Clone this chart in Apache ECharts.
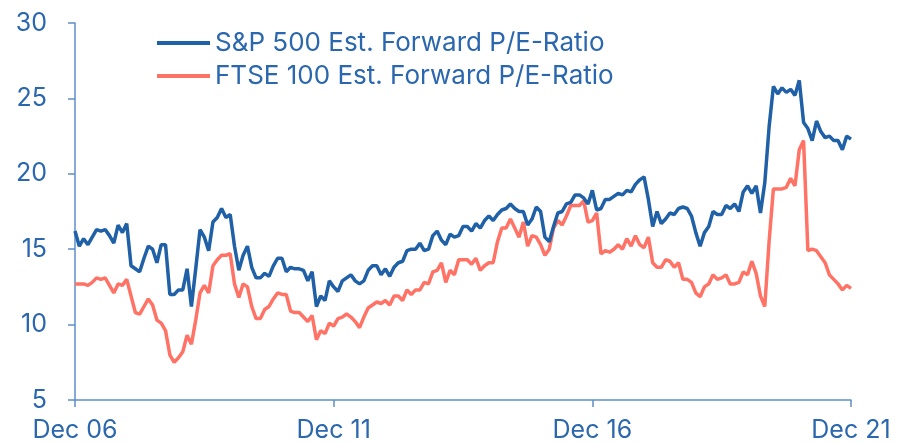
<!DOCTYPE html>
<html>
<head>
<meta charset="utf-8">
<title>Forward P/E</title>
<script src="https://cdn.jsdelivr.net/npm/echarts@6/dist/echarts.min.js"></script>
<style>
  html, body { margin: 0; padding: 0; background: #fff; }
  #chart { width: 909px; height: 443px; }
</style>
</head>
<body>
<div id="chart"></div>
<script>
// monthly values, Dec 2006 .. Dec 2021
var spx = [
  16.2, 15.2, 15.7, 15.3, 15.8, 16.3, 16.2, 16.3, 15.9, 15.4,
  16.6, 16.1, 16.7, 13.9, 13.7, 13.5, 14.4, 15.2, 15.0, 14.1,
  15.3, 15.3, 12.0, 12.0, 12.3, 12.3, 13.7, 11.2, 13.7, 16.3,
  15.8, 14.9, 16.8, 17.1, 17.7, 17.1, 17.3, 15.2, 13.6, 14.6,
  15.2, 13.8, 13.1, 13.1, 13.4, 13.2, 13.9, 14.4, 14.4, 13.5,
  13.8, 13.7, 13.7, 13.6, 12.9, 13.5, 11.2, 11.9, 11.6, 12.9,
  12.5, 12.2, 12.9, 13.1, 13.3, 12.9, 12.7, 12.9, 13.6, 13.9,
  13.9, 13.3, 13.7, 13.2, 13.8, 14.1, 14.2, 14.9, 15.0, 15.0,
  15.4, 14.9, 15.0, 15.9, 16.2, 15.6, 15.3, 16.0, 15.8, 15.9,
  16.5, 16.5, 16.2, 16.7, 16.4, 16.9, 17.2, 16.9, 17.3, 17.6,
  17.7, 18.0, 17.7, 17.5, 17.5, 16.6, 17.0, 17.8, 17.5, 15.8,
  15.5, 16.5, 17.4, 17.5, 18.0, 18.1, 18.6, 18.6, 18.4, 18.0,
  18.9, 17.6, 17.7, 18.3, 18.3, 18.5, 18.7, 18.6, 18.9, 18.8,
  19.3, 19.6, 19.8, 18.3, 16.5, 17.5, 16.7, 17.0, 17.4, 17.3,
  17.7, 17.8, 17.7, 17.2, 16.1, 15.2, 16.1, 16.5, 17.5, 17.3,
  17.3, 17.9, 17.7, 18.0, 17.5, 18.8, 19.2, 18.7, 19.2, 17.4,
  19.4, 23.1, 25.8, 25.3, 25.7, 25.4, 25.6, 25.2, 26.2, 23.4,
  23.0, 22.2, 23.5, 22.8, 22.4, 22.5, 22.2, 22.2, 21.6, 22.5,
  22.3
];

var ftse = [
  12.7, 12.7, 12.7, 12.6, 12.8, 13.1, 13.0, 13.1, 12.6, 12.1,
  12.7, 12.6, 13.0, 11.9, 10.8, 10.7, 11.2, 11.7, 11.3, 10.3,
  10.1, 9.6, 8.0, 7.5, 7.8, 8.2, 9.3, 8.7, 10.3, 12.1,
  12.6, 12.1, 13.9, 14.3, 14.6, 14.6, 14.7, 12.7, 11.8, 12.7,
  12.5, 11.2, 10.4, 10.4, 11.0, 11.2, 11.7, 12.1, 12.0, 12.0,
  10.9, 10.8, 10.8, 10.5, 10.2, 10.6, 9.0, 9.6, 9.4, 10.1,
  9.9, 10.4, 10.5, 10.7, 10.5, 10.2, 9.8, 10.5, 11.1, 11.3,
  11.5, 11.4, 11.6, 11.3, 11.9, 11.9, 11.6, 12.3, 12.0, 12.3,
  12.3, 12.8, 12.7, 13.5, 13.6, 14.1, 12.8, 13.6, 13.3, 14.3,
  14.3, 14.3, 14.0, 14.4, 13.6, 13.9, 14.1, 14.1, 15.5, 16.4,
  16.4, 17.0, 16.4, 15.8, 16.8, 15.2, 15.9, 15.8, 15.3, 14.6,
  15.0, 16.4, 16.9, 16.6, 17.2, 17.9, 17.9, 17.9, 18.2, 16.8,
  16.9, 17.4, 14.7, 14.9, 14.8, 15.0, 15.3, 15.0, 15.7, 15.2,
  15.9, 15.3, 15.1, 15.8, 14.1, 13.8, 13.8, 14.3, 14.2, 13.8,
  14.1, 13.0, 13.0, 12.8, 12.1, 11.85, 12.5, 12.7, 13.3, 13.0,
  13.1, 13.3, 12.7, 12.7, 12.8, 13.5, 13.3, 14.2, 13.4, 11.9,
  11.2, 15.5, 19.0, 19.0, 19.0, 19.1, 19.7, 19.2, 21.6, 22.2,
  14.9, 15.0, 14.9, 14.5, 14.1, 13.3, 13.0, 12.7, 12.3, 12.6,
  12.4
];

var monthNames = ['Jan','Feb','Mar','Apr','May','Jun','Jul','Aug','Sep','Oct','Nov','Dec'];
var seriesNames = ['S&P 500 Est. Forward P/E-Ratio', 'FTSE 100 Est. Forward P/E-Ratio'];

// category labels "Dec 06", "Jan 07", ...
var months = [];
for (var k = 0; k < spx.length; k++) {
  var m = (11 + k) % 12;
  var y = 6 + Math.floor((11 + k) / 12);
  months.push(monthNames[m] + ' ' + (y < 10 ? '0' + y : '' + y));
}

var textBlue = '#2a67ae';
var axisBlue = '#5e8fc6';
var lineBlue = '#1f60a6';
var lineRed = '#ff7266';
var font = 'Inter';

var chart = echarts.init(document.getElementById('chart'));
chart.setOption({
  animation: false,
  grid: { left: 75, right: 58, top: 23, bottom: 42 },
  legend: {
    orient: 'vertical',
    left: 157,
    top: 30,
    padding: 0,
    icon: 'rect',
    itemWidth: 53,
    itemHeight: 4,
    itemGap: 7,
    itemTextGap: 5,
    textStyle: { color: textBlue, fontSize: 26, fontFamily: font, lineHeight: 26 },
    data: seriesNames
  },
  xAxis: {
    type: 'category',
    data: months,
    boundaryGap: false,
    axisLine: { lineStyle: { color: axisBlue, width: 1.5 } },
    axisTick: { interval: 59, length: 7, lineStyle: { color: axisBlue, width: 1.5 } },
    axisLabel: { interval: 59, margin: 18, color: textBlue, fontSize: 25, fontFamily: font },
    splitLine: { show: false }
  },
  yAxis: {
    type: 'value',
    min: 5,
    max: 30,
    interval: 5,
    axisLine: { show: true, lineStyle: { color: axisBlue, width: 1.5 } },
    axisTick: { show: true, length: 7, lineStyle: { color: axisBlue, width: 1.5 } },
    axisLabel: { margin: 28, color: textBlue, fontSize: 25, fontFamily: font },
    splitLine: { show: false }
  },
  series: [
    {
      name: seriesNames[0],
      type: 'line',
      data: spx,
      symbol: 'none',
      color: lineBlue,
      lineStyle: { width: 3.5, color: lineBlue },
      z: 3
    },
    {
      name: seriesNames[1],
      type: 'line',
      data: ftse,
      symbol: 'none',
      color: lineRed,
      lineStyle: { width: 3.5, color: lineRed },
      z: 2
    }
  ]
});
</script>
</body>
</html>
